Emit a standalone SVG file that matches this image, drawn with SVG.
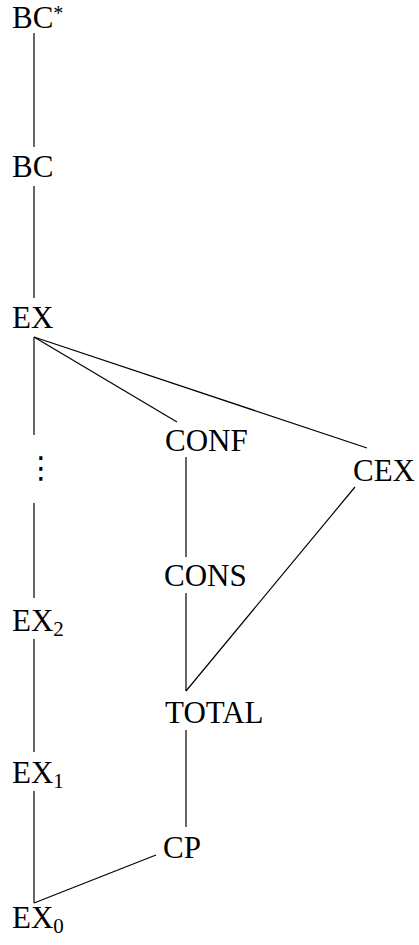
<svg xmlns="http://www.w3.org/2000/svg" width="419" height="945" viewBox="0 0 419 945">
<style>
text{font-family:"Liberation Serif","DejaVu Serif",serif;font-size:31px;fill:#000}
.sub{font-size:21px}
.sup{font-size:20px}
.dots{font-family:"DejaVu Sans",sans-serif;font-size:30px}
.e{stroke:#000;stroke-width:1.2;fill:none}
</style>
<rect width="419" height="945" fill="#fff"/>
<g id="edges">
<line class="e" x1="34" y1="33" x2="34" y2="147"/>
<line class="e" x1="34" y1="186" x2="34" y2="298"/>
<line class="e" x1="34" y1="337" x2="34" y2="435"/>
<line class="e" x1="34" y1="503" x2="34" y2="598"/>
<line class="e" x1="34" y1="639" x2="34" y2="752"/>
<line class="e" x1="34" y1="791" x2="34" y2="903"/>
<line class="e" x1="34" y1="337" x2="177" y2="422"/>
<line class="e" x1="34" y1="337" x2="367" y2="448"/>
<line class="e" x1="186" y1="457" x2="186" y2="557"/>
<line class="e" x1="186" y1="593" x2="186" y2="691"/>
<line class="e" x1="355" y1="487" x2="186" y2="691"/>
<line class="e" x1="186" y1="730" x2="186" y2="827"/>
<line class="e" x1="156" y1="855" x2="34" y2="903"/>
</g>
<g id="BCstar"><text x="12" y="28">BC<tspan class="sup" dy="-8">*</tspan></text></g>
<g id="BC"><text x="12" y="177">BC</text></g>
<g id="EX"><text x="12" y="328">EX</text></g>
<g id="dots"><text class="dots" x="26" y="478">⋮</text></g>
<g id="EX2"><text x="12" y="631">EX<tspan class="sub" dy="5">2</tspan></text></g>
<g id="EX1"><text x="12" y="783">EX<tspan class="sub" dy="5">1</tspan></text></g>
<g id="EX0"><text x="12" y="928">EX<tspan class="sub" dy="5">0</tspan></text></g>
<g id="CONF"><text x="165" y="451">CONF</text></g>
<g id="CEX"><text x="353" y="481">CEX</text></g>
<g id="CONS"><text x="164" y="586">CONS</text></g>
<g id="TOTAL"><text x="165" y="723">TOTAL</text></g>
<g id="CP"><text x="163" y="858">CP</text></g>
</svg>
